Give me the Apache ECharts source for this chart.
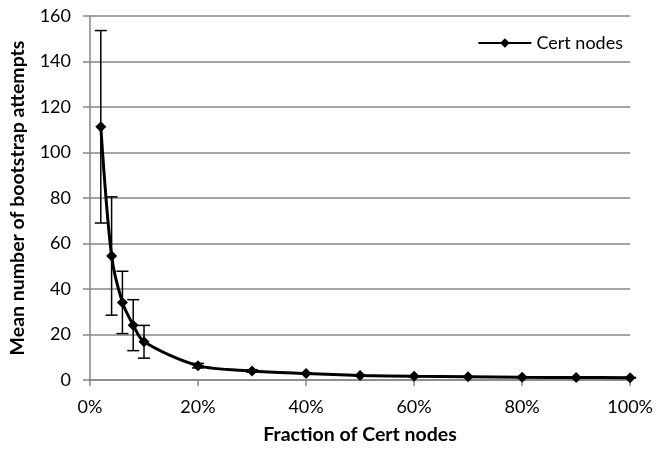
<!DOCTYPE html>
<html><head><meta charset="utf-8">
<script src="https://cdn.jsdelivr.net/npm/echarts@6/dist/echarts.min.js"></script>
<style>html,body{margin:0;padding:0;background:#fff}#c{width:656px;height:450px}</style>
</head><body><div id="c"></div>
<script>
const fractions = [2, 4, 6, 8, 10, 20, 30, 40, 50, 60, 70, 80, 90, 100];
const meanAttempts = [111.3, 54.5, 34.1, 24.1, 16.8, 6.3, 4.0, 2.9, 2.0, 1.6, 1.4, 1.2, 1.1, 1.0];
const errorAmount = [42.3, 26.0, 13.7, 11.2, 7.2, 1.0, 0.5, 0.3, 0.2, 0.2, 0.1, 0.1, 0.1, 0.1];
const xTicks = [0, 20, 40, 60, 80, 100];
const yTicks = [0, 20, 40, 60, 80, 100, 120, 140, 160];

const lineData = fractions.map((f, i) => [f, meanAttempts[i]]);
const errData = fractions.map((f, i) => [f, meanAttempts[i] - errorAmount[i], meanAttempts[i] + errorAmount[i]]);
const FONT = 'Lato';
const chart = echarts.init(document.getElementById('c'));
chart.setOption({
  animation: false,
  grid: { left: 90, right: 25, top: 16, bottom: 69 },
  legend: {
    show: true,
    top: 29, right: 28, itemWidth: 53, itemHeight: 12,
    textStyle: { fontFamily: FONT, fontSize: 18, color: '#000' },
    data: ['Cert nodes']
  },
  xAxis: {
    type: 'value', min: xTicks[0], max: xTicks[xTicks.length - 1], interval: 20,
    name: 'Fraction of Cert nodes', nameLocation: 'middle', nameGap: 45,
    nameTextStyle: { fontFamily: FONT, fontSize: 19.5, fontWeight: 'bold', color: '#000' },
    axisLine: { show: true, lineStyle: { color: '#868686', width: 1.5 } },
    axisTick: { show: true, length: 6, lineStyle: { color: '#868686', width: 1.5 } },
    axisLabel: { fontFamily: FONT, fontSize: 18, color: '#000', margin: 18, formatter: v => v + '%' },
    splitLine: { show: false }
  },
  yAxis: {
    type: 'value', min: yTicks[0], max: yTicks[yTicks.length - 1], interval: 20,
    name: 'Mean number of bootstrap attempts', nameLocation: 'middle', nameGap: 62,
    nameTextStyle: { fontFamily: FONT, fontSize: 19.5, fontWeight: 'bold', color: '#000' },
    axisLine: { show: true, lineStyle: { color: '#868686', width: 1.5 } },
    axisTick: { show: true, length: 7, lineStyle: { color: '#868686', width: 1.5 } },
    axisLabel: { fontFamily: FONT, fontSize: 18, color: '#000', margin: 19 },
    splitLine: { show: true, lineStyle: { color: '#868686', width: 1.5 } }
  },
  series: [
    {
      type: 'custom', name: 'err', z: 3, silent: true,
      renderItem: function (params, api) {
        const x = api.value(0);
        const lo = api.coord([x, api.value(1)]);
        const hi = api.coord([x, api.value(2)]);
        const w = 6;
        const st = { stroke: '#000', lineWidth: 1.5, fill: null };
        return {
          type: 'group', children: [
            { type: 'line', shape: { x1: lo[0], y1: lo[1], x2: hi[0], y2: hi[1] }, style: st },
            { type: 'line', shape: { x1: lo[0] - w, y1: lo[1], x2: lo[0] + w, y2: lo[1] }, style: st },
            { type: 'line', shape: { x1: hi[0] - w, y1: hi[1], x2: hi[0] + w, y2: hi[1] }, style: st }
          ]
        };
      },
      data: errData
    },
    {
      type: 'line', name: 'Cert nodes', z: 4, smooth: 0.3,
      data: lineData,
      symbol: 'diamond', symbolSize: 11,
      lineStyle: { color: '#000', width: 3 },
      itemStyle: { color: '#000' }
    }
  ]
});
</script></body></html>
